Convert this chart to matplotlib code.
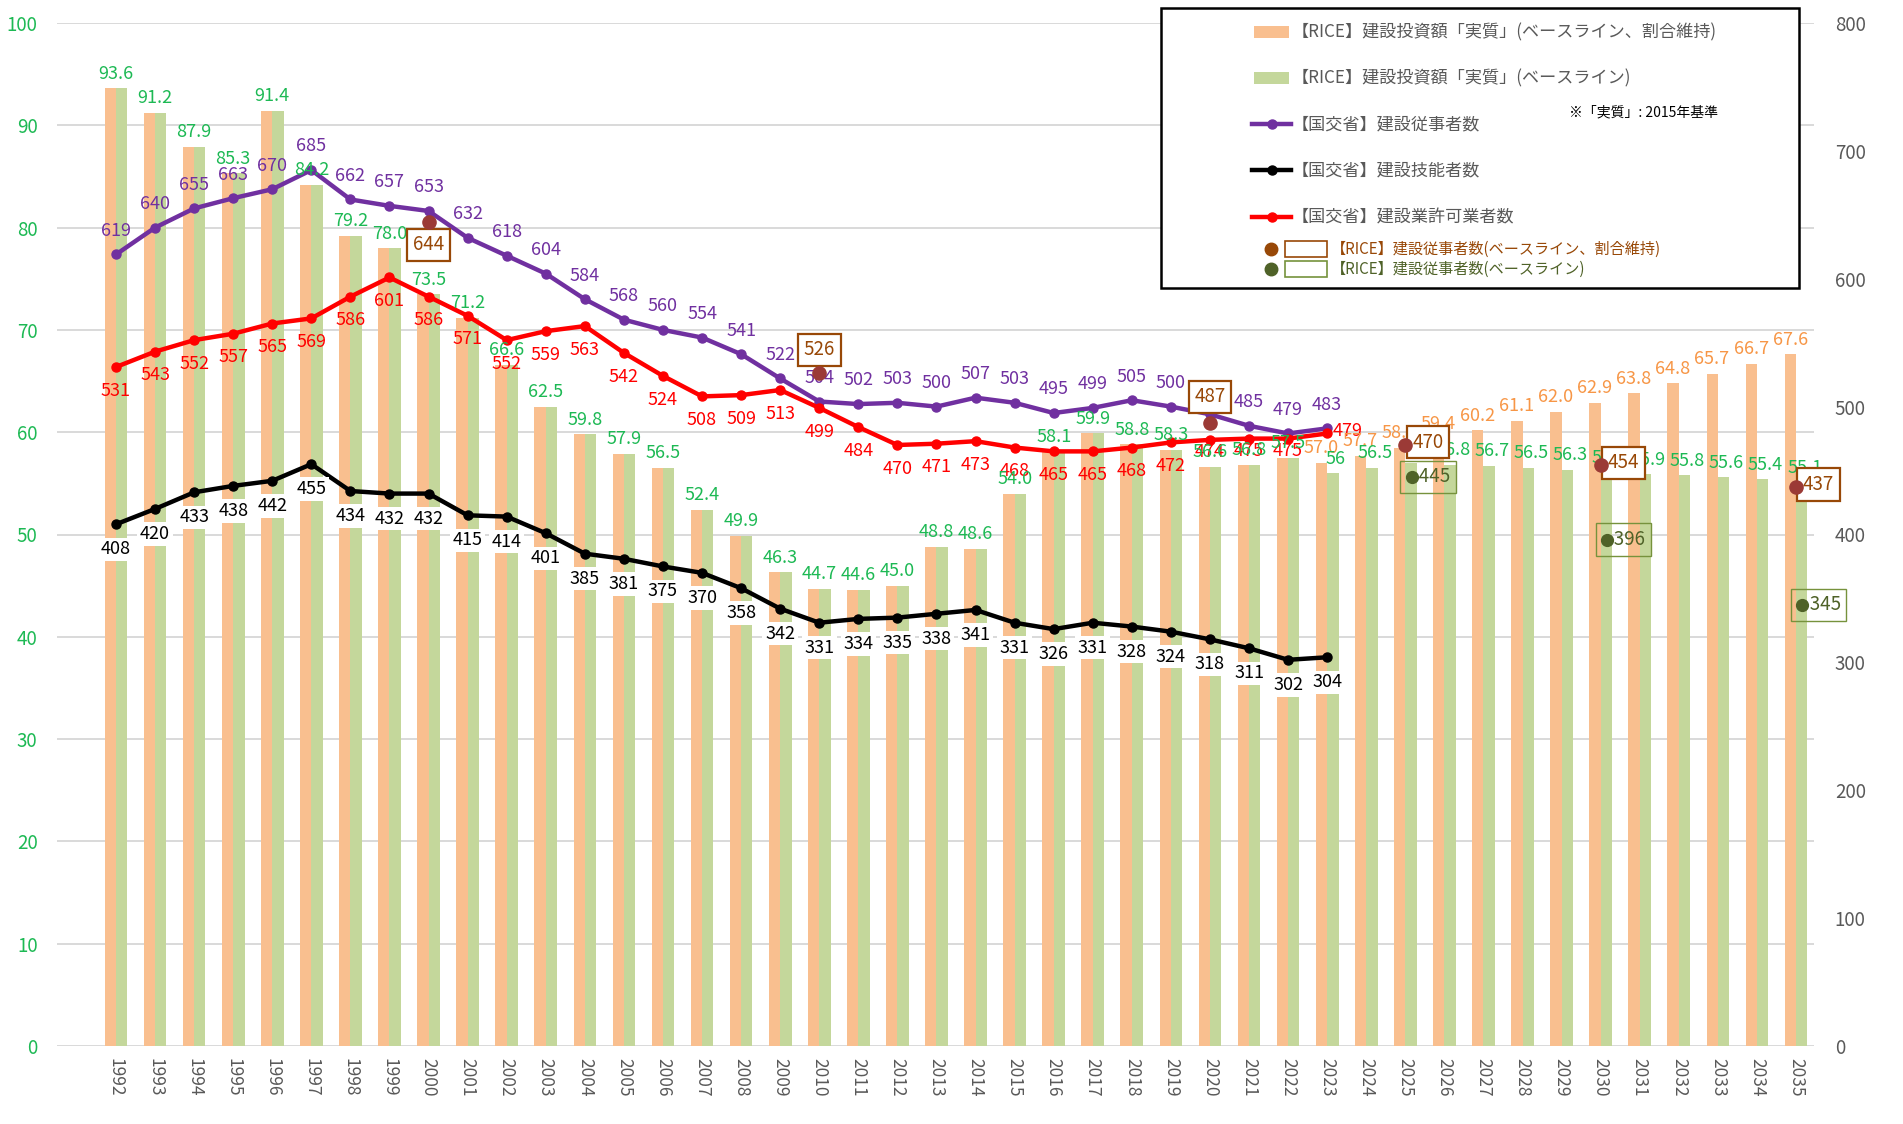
import matplotlib
matplotlib.use("Agg")
import matplotlib.pyplot as plt
from matplotlib.patches import Rectangle
from matplotlib.lines import Line2D

plt.rcParams['font.family'] = ['Noto Sans CJK JP', 'DejaVu Sans']

# ---- data ----
years = list(range(1992, 2036))
years_hist = list(range(1992, 2024))

# 建設投資額「実質」(left axis)
invest_keep = [93.6, 91.2, 87.9, 85.3, 91.4, 84.2, 79.2, 78.0, 73.5, 71.2, 66.6, 62.5,
               59.8, 57.9, 56.5, 52.4, 49.9, 46.3, 44.7, 44.6, 45.0, 48.8, 48.6, 54.0,
               58.1, 59.9, 58.8, 58.3, 56.6, 56.8, 57.5, 57.0, 57.7, 58.5, 59.4, 60.2,
               61.1, 62.0, 62.9, 63.8, 64.8, 65.7, 66.7, 67.6]
invest_base = [93.6, 91.2, 87.9, 85.3, 91.4, 84.2, 79.2, 78.0, 73.5, 71.2, 66.6, 62.5,
               59.8, 57.9, 56.5, 52.4, 49.9, 46.3, 44.7, 44.6, 45.0, 48.8, 48.6, 54.0,
               58.1, 59.9, 58.8, 58.3, 56.6, 56.8, 57.5, 56, 56.5, 57, 56.8, 56.7,
               56.5, 56.3, 56.1, 55.9, 55.8, 55.6, 55.4, 55.1]
keep_label_from = 2023

# 国交省 (right axis)
workers = [619, 640, 655, 663, 670, 685, 662, 657, 653, 632, 618, 604, 584, 568, 560, 554,
           541, 522, 504, 502, 503, 500, 507, 503, 495, 499, 505, 500, 494, 485, 479, 483]
skilled = [408, 420, 433, 438, 442, 455, 434, 432, 432, 415, 414, 401, 385, 381, 375, 370,
           358, 342, 331, 334, 335, 338, 341, 331, 326, 331, 328, 324, 318, 311, 302, 304]
firms = [531, 543, 552, 557, 565, 569, 586, 601, 586, 571, 552, 559, 563, 542, 524, 508,
         509, 513, 499, 484, 470, 471, 473, 468, 465, 465, 468, 472, 474, 475, 475, 479]

# RICE 建設従事者数
rice_keep_years = [2000, 2010, 2020, 2025, 2030, 2035]
rice_keep = [644, 526, 487, 470, 454, 437]
rice_base_years = [2025, 2030, 2035]
rice_base = [445, 396, 345]

# ---- colours ----
c_orange = '#F9BF8F'
c_green = '#C4D79B'
c_purple = '#7030A0'
c_red = '#FF0000'
c_lbl_green = '#1DB954'
c_lbl_orange = '#F79646'
c_brown = '#984807'
c_dot = '#9B3A36'
c_olive = '#4F6228'
c_gray = '#595959'

W, H = 1903, 1124
fig = plt.figure(figsize=(W / 100, H / 100), dpi=100)
ax = fig.add_axes([57 / W, 78 / H, (1814 - 57) / W, (1046 - 23) / H])
ax2 = ax.twinx()

bw = 0.29
ax.bar([y - bw / 2 for y in years], invest_keep, width=bw, color=c_orange, zorder=2)
ax.bar([y + bw / 2 for y in years], invest_base, width=bw, color=c_green, zorder=2)

ax.set_xlim(1990.49, 2035.46)
ax.set_ylim(0, 100)
ax.set_yticks(range(0, 101, 10))
ax.set_xticks(years)
ax.set_xticklabels([str(y) for y in years], rotation=-90, fontsize=12.5, color=c_gray)
ax.tick_params(axis='x', length=0, pad=9)
ax.tick_params(axis='y', length=0, pad=14, labelsize=13.5, labelcolor=c_lbl_green)
ax.yaxis.grid(True, color='#D9D9D9', lw=1.4)
ax.set_axisbelow(True)
for s in ax.spines.values():
    s.set_visible(False)

ax2.set_ylim(0, 800)
ax2.set_yticks(range(0, 801, 100))
ax2.tick_params(axis='y', length=0, pad=15, labelsize=13.5, labelcolor=c_gray)
for s in ax2.spines.values():
    s.set_visible(False)

# lines
lw, ms = 3.2, 6.5
ax2.plot(years_hist, workers, color=c_purple, lw=lw, marker='o', ms=ms, zorder=3)
ax2.plot(years_hist, skilled, color='black', lw=lw, marker='o', ms=ms, zorder=3)
ax2.plot(years_hist, firms, color=c_red, lw=lw, marker='o', ms=ms, zorder=3)

fs = 13
for x, v in zip(years_hist, workers):
    ax2.annotate(str(v), (x, v), xytext=(0, 17), textcoords='offset points',
                 ha='center', va='center', color=c_purple, fontsize=fs, zorder=6)
for x, v in zip(years_hist, firms):
    if x == 2023:
        ax2.annotate(str(v), (x, v), xytext=(4, 2), textcoords='offset points',
                     ha='left', va='center', color=c_red, fontsize=fs, zorder=6)
    else:
        off = -9 if x in (2020, 2021, 2022) else -17
        ax2.annotate(str(v), (x, v), xytext=(0, off), textcoords='offset points',
                     ha='center', va='center', color=c_red, fontsize=fs, zorder=6)
for x, v in zip(years_hist, skilled):
    ax2.annotate(str(v), (x, v), xytext=(0, -18), textcoords='offset points',
                 ha='center', va='center', color='black', fontsize=fs, zorder=6,
                 bbox=dict(boxstyle='square,pad=0.15', fc='white', ec='none'))


def fmt(v):
    return str(v) if isinstance(v, int) else f"{v:.1f}"


# bar labels
for x, vk, vb in zip(years, invest_keep, invest_base):
    if x >= keep_label_from:
        ax2.annotate(fmt(vk), (x - 0.15, vk), xycoords=ax.transData, xytext=(0, 4),
                     textcoords='offset points', ha='center', va='bottom',
                     color=c_lbl_orange, fontsize=fs, zorder=6)
        ax2.annotate(fmt(vb), (x + 0.22, vb), xycoords=ax.transData, xytext=(0, 4),
                     textcoords='offset points', ha='center', va='bottom',
                     color=c_lbl_green, fontsize=fs, zorder=6)
    else:
        ax2.annotate(fmt(vb), (x, vb), xycoords=ax.transData, xytext=(0, 4),
                     textcoords='offset points', ha='center', va='bottom',
                     color=c_lbl_green, fontsize=fs, zorder=6)

# RICE points (割合維持)
ax2.plot(rice_keep_years, rice_keep, ls='none', marker='o', ms=9.5, color=c_dot, zorder=9)
keep_offsets = {2000: (0, -16, 'center'), 2010: (0, 17, 'center'), 2020: (0, 19, 'center')}
for x, v in zip(rice_keep_years, rice_keep):
    dx, dy, ha = keep_offsets.get(x, (5, 2, 'left'))
    ax2.annotate(str(v), (x, v), xytext=(dx, dy), textcoords='offset points',
                 ha=ha, va='center', color=c_brown, fontsize=13.5, zorder=8,
                 bbox=dict(boxstyle='square,pad=0.3', fc='white', ec=c_brown, lw=1.6))

# RICE points (ベースライン): the boxed label encloses the dot
bx = [y + 0.16 for y in rice_base_years]
for x, v in zip(bx, rice_base):
    ax2.annotate('   ' + str(v), (x, v), xytext=(-4, 0), textcoords='offset points',
                 ha='left', va='center', color=c_olive, fontsize=13.5, zorder=8,
                 bbox=dict(boxstyle='square,pad=0.3', fc='none', ec='#76923C', lw=1.0))
ax2.plot(bx, rice_base, ls='none', marker='o', ms=8.5, color=c_olive, zorder=9)


# ---- legend (drawn by hand in figure pixels) ----
def fx(px):
    return px / W


def fy(py):
    return 1 - py / H


fig.add_artist(Rectangle((fx(1161), fy(288)), fx(1799) - fx(1161), fy(8) - fy(288),
                         transform=fig.transFigure, fill=True, fc='white', ec='black',
                         lw=1.8, zorder=20))
rows = [
    ('patch', c_orange, '【RICE】建設投資額「実質」(ベースライン、割合維持)', 32),
    ('patch', c_green, '【RICE】建設投資額「実質」(ベースライン)', 78),
    ('line', c_purple, '【国交省】建設従事者数', 124),
    ('line', 'black', '【国交省】建設技能者数', 170),
    ('line', c_red, '【国交省】建設業許可業者数', 217),
]
for kind, col, label, py in rows:
    if kind == 'patch':
        fig.add_artist(Rectangle((fx(1254), fy(py + 6)), fx(1289) - fx(1254), fy(py - 6) - fy(py + 6),
                                 transform=fig.transFigure, fc=col, ec='none', zorder=21))
    else:
        fig.add_artist(Line2D([fx(1252), fx(1291)], [fy(py), fy(py)], transform=fig.transFigure,
                              color=col, lw=3.2, zorder=21))
        fig.add_artist(Line2D([fx(1271.5)], [fy(py)], transform=fig.transFigure,
                              color=col, marker='o', ms=6.5, ls='none', zorder=22))
    fig.text(fx(1292), fy(py), label, ha='left', va='center', fontsize=12.3, color=c_gray,
             zorder=22)

special = [(c_brown, c_brown, '【RICE】建設従事者数(ベースライン、割合維持)', 249),
           (c_olive, '#76923C', '【RICE】建設従事者数(ベースライン)', 269)]
for dcol, ecol, label, py in special:
    fig.add_artist(Line2D([fx(1271)], [fy(py)], transform=fig.transFigure, color=dcol,
                          marker='o', ms=9, ls='none', zorder=22))
    fig.add_artist(Rectangle((fx(1285), fy(py + 8)), fx(1327) - fx(1285), fy(py - 8) - fy(py + 8),
                             transform=fig.transFigure, fill=False, ec=ecol, lw=1.2, zorder=22))
    fig.text(fx(1331), fy(py), label, ha='left', va='center', fontsize=10.9, color=dcol,
             zorder=22)

fig.text(fx(1569), fy(112), '※「実質」: 2015年基準', ha='left', va='center', fontsize=10,
         color='black', zorder=22)

fig.savefig('out.png', dpi=100)
